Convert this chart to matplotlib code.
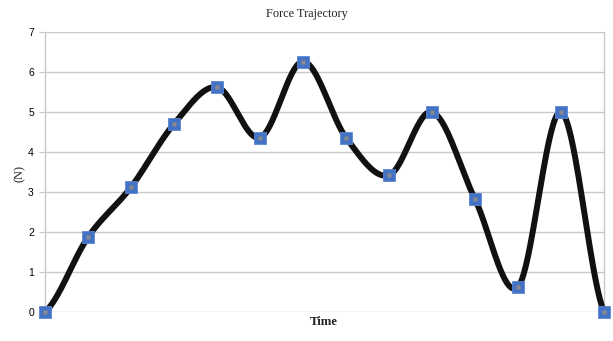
import numpy as np
import matplotlib.pyplot as plt

# force samples at each time step
time_steps = list(range(14))
force_n = [0.0, 1.87, 3.12, 4.70, 5.62, 4.36, 6.26, 4.36, 3.42, 5.0, 2.82, 0.63, 5.0, 0.0]
y_ticks = [0, 1, 2, 3, 4, 5, 6, 7]


def smooth_curve(x, y, per_seg=40):
    """Catmull-Rom style smoothing through every sample point."""
    x = np.asarray(x, float)
    y = np.asarray(y, float)
    px = np.concatenate([[2 * x[0] - x[1]], x, [2 * x[-1] - x[-2]]])
    py = np.concatenate([[y[0]], y, [y[-1]]])
    xs, ys = [], []
    t = np.linspace(0, 1, per_seg)
    for i in range(1, len(px) - 2):
        p0, p1, p2, p3 = (np.array([px[j], py[j]]) for j in range(i - 1, i + 3))
        c1 = p1 + (p2 - p0) / 6
        c2 = p2 - (p3 - p1) / 6
        b = ((1 - t) ** 3)[:, None] * p1 + (3 * (1 - t) ** 2 * t)[:, None] * c1 \
            + (3 * (1 - t) * t ** 2)[:, None] * c2 + (t ** 3)[:, None] * p2
        xs.append(b[:, 0])
        ys.append(b[:, 1])
    return np.concatenate(xs), np.concatenate(ys)


fig = plt.figure(figsize=(6.13, 3.41), dpi=100)
ax = fig.add_axes([45 / 613, 1 - 312 / 341, (604 - 45) / 613, (312 - 32) / 341])

sx, sy = smooth_curve(time_steps, force_n)
ax.plot(sx, sy, color='#111111', lw=4.3, solid_capstyle='round', zorder=3, clip_on=False)
ax.plot(time_steps, force_n, ls='none', marker='s', ms=8, mfc='#4472C4',
        mec='#5b86d4', mew=0.6, zorder=4, clip_on=False)
ax.plot(time_steps, force_n, ls='none', marker='s', ms=2.2, mfc='#8a8a8a',
        mec='none', zorder=5, clip_on=False)

ax.set_xlim(0, 13)
ax.set_ylim(0, 7)
ax.set_yticks(y_ticks)
ax.set_xticks([])
ax.grid(axis='y', color='#c8c8c8', lw=1.0)
ax.set_axisbelow(True)

for side in ['top', 'bottom']:
    ax.spines[side].set_visible(False)
for side in ['left', 'right']:
    ax.spines[side].set_color('#c8c8c8')
    ax.spines[side].set_linewidth(1.0)

ax.tick_params(axis='y', length=4, color='#c8c8c8', pad=4, labelsize=7.5)
for lbl in ax.get_yticklabels():
    lbl.set_family('Liberation Sans')

fig.text(307 / 613, 1 - 14 / 341, 'Force Trajectory', ha='center', va='center',
         family='Liberation Serif', fontsize=8.8, color='#222222')
fig.text(324 / 613, 1 - 322 / 341, 'Time', ha='center', va='center',
         family='Liberation Serif', fontsize=9.2, fontweight='bold', color='#222222')
fig.text(20 / 613, 1 - 173 / 341, '(N)', ha='center', va='center', rotation=90,
         family='Liberation Serif', fontsize=9, color='#222222')

fig.savefig('out.png', dpi=100)
